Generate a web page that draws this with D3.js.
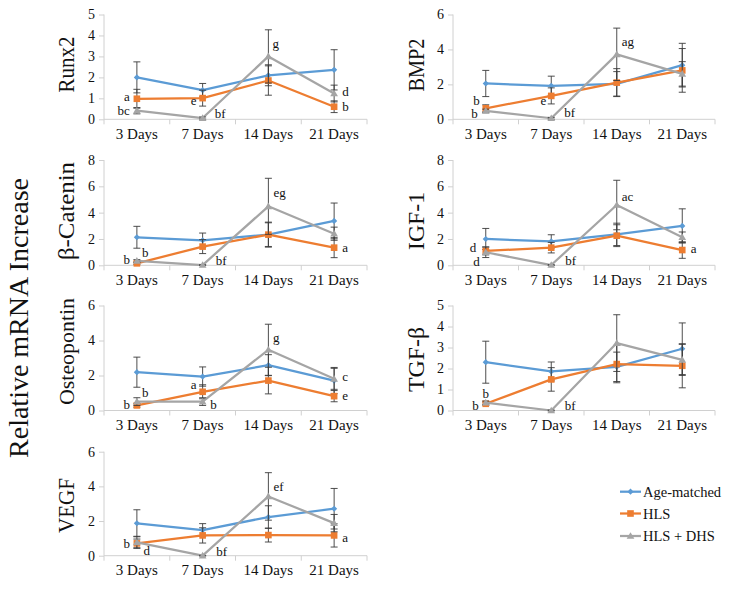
<!DOCTYPE html>
<html><head><meta charset="utf-8">
<script src="https://cdn.jsdelivr.net/npm/d3@7"></script>
<style>
body{margin:0;background:#fff}
svg{display:block}
svg text{font-family:"Liberation Serif","Times New Roman",Times,serif !important;fill:#111 !important}
</style>
</head><body>
<svg id="chart" width="730" height="591"></svg>
<script>
// ---------------- DATA ----------------
const days = ["3 Days", "7 Days", "14 Days", "21 Days"];
const seriesNames = ["Age-matched", "HLS", "HLS + DHS"];
const genes = ["Runx2", "BMP2", "β-Catenin", "IGF-1", "Osteopontin", "TGF-β", "VEGF"];
const yMax = [5, 6, 8, 8, 6, 5, 6];
const yStep = [1, 2, 2, 2, 2, 1, 2];

// values per gene (rows) x day (cols)
const ageMatched = [
  [2.00, 1.39, 2.10, 2.36],
  [2.05, 1.92, 2.03, 3.10],
  [2.13, 1.90, 2.33, 3.37],
  [2.00, 1.82, 2.35, 2.99],
  [2.19, 1.94, 2.59, 1.71],
  [2.30, 1.86, 2.08, 2.94],
  [1.87, 1.48, 2.23, 2.71]
];
const ageMatchedErr = [
  [0.74, 0.32, 0.50, 0.96],
  [0.75, 0.55, 0.70, 1.25],
  [0.83, 0.55, 0.95, 1.36],
  [0.80, 0.50, 0.85, 1.30],
  [0.86, 0.55, 0.60, 0.75],
  [1.00, 0.45, 0.70, 1.23],
  [0.78, 0.37, 0.65, 1.17]
];
const hls = [
  [0.98, 1.01, 1.85, 0.60],
  [0.63, 1.34, 2.10, 2.80],
  [0.15, 1.42, 2.33, 1.34],
  [1.09, 1.34, 2.25, 1.16],
  [0.29, 1.07, 1.71, 0.82],
  [0.32, 1.48, 2.21, 2.13],
  [0.71, 1.17, 1.19, 1.17]
];
const hlsErr = [
  [0.45, 0.38, 0.70, 0.28],
  [0.20, 0.46, 0.80, 1.25],
  [0.10, 0.53, 0.90, 0.76],
  [0.30, 0.40, 0.83, 0.63],
  [0.10, 0.40, 0.76, 0.32],
  [0.08, 0.56, 0.89, 1.05],
  [0.25, 0.44, 0.40, 0.67]
];
const hlsDhs = [
  [0.41, 0.06, 3.00, 1.23],
  [0.48, 0.06, 3.72, 2.60],
  [0.33, 0.02, 4.48, 2.40],
  [0.99, 0.02, 4.58, 2.13],
  [0.51, 0.51, 3.47, 1.81],
  [0.37, 0.00, 3.21, 2.41],
  [0.77, 0.00, 3.42, 1.88]
];
const hlsDhsErr = [
  [0.15, 0.05, 1.27, 0.40],
  [0.10, 0.05, 1.50, 0.70],
  [0.10, 0.03, 2.13, 0.50],
  [0.40, 0.03, 1.88, 0.40],
  [0.22, 0.22, 1.46, 0.60],
  [0.08, 0.02, 1.35, 0.74],
  [0.35, 0.02, 1.37, 0.50]
];

// significance letters: [gene, series, day, text]
const letters = [
  [0,1,0,"a"],[0,2,0,"bc"],[0,1,1,"e"],[0,2,1,"bf"],[0,2,2,"g"],[0,2,3,"d"],[0,1,3,"b"],
  [1,1,0,"b"],[1,2,0,"b"],[1,1,1,"e"],[1,2,1,"bf"],[1,2,2,"ag"],
  [2,1,0,"b"],[2,2,0,"b"],[2,2,1,"bf"],[2,2,2,"eg"],[2,1,3,"a"],
  [3,1,0,"d"],[3,2,0,"d"],[3,2,1,"bf"],[3,2,2,"ac"],[3,1,3,"a"],
  [4,2,0,"b"],[4,1,0,"b"],[4,1,1,"a"],[4,2,1,"b"],[4,2,2,"g"],[4,2,3,"c"],[4,1,3,"e"],
  [5,2,0,"b"],[5,1,0,"b"],[5,2,1,"bf"],
  [6,1,0,"b"],[6,1,0,"d"],[6,2,1,"bf"],[6,2,2,"ef"],[6,1,3,"a"]
];

// ---------------- LAYOUT ----------------
const letterOffsets = [
  [-7,2.2,"end"],[-7,4.75,"end"],[-6,6.9,"end"],[12,0,"start"],[4,-8.25,"start"],[8,2,"start"],[8,4.75,"start"],
  [-6,-3.5,"end"],[-8,7.5,"end"],[-5,9.2,"end"],[13,-1.3,"start"],[5,-8,"start"],
  [-7,0.5,"end"],[5,-4,"start"],[13,0,"start"],[5,-9,"start"],[8,4.5,"start"],
  [-9.5,1.5,"end"],[-6,13.5,"end"],[14,-0.5,"start"],[5,-4.5,"start"],[8.5,3.2,"start"],
  [5,-4.5,"start"],[-7,3.5,"end"],[-6,-3.1,"end"],[7.5,7.5,"start"],[4.5,-8.25,"start"],[8,2.5,"start"],[8,3.5,"start"],
  [0,-4.25,"middle"],[-7,6.5,"end"],[13.5,-0.25,"start"],
  [-7,4.75,"end"],[6.5,11.75,"start"],[13.5,0,"start"],[5,-5.3,"start"],[8,6.2,"start"]
];
const colX = [[104, 367], [453, 715]];
const rowY = [[14.5, 119.3], [160, 265.3], [305.5, 410.5], [451.7, 555.7]];
const panelCol = [0, 1, 0, 1, 0, 1, 0];
const panelRow = [0, 0, 1, 1, 2, 2, 3];
const titleX = [74, 424];
const titleY = [64.5, 65, 211, 221, 351.5, 359.5, 505.5];
const titleSize = [24, 23, 23, 24, 21, 23, 23];
const titleLen = [56, 53, 98, 58, 107, 65, 55];
const colors = ["#5B9BD5", "#ED7D31", "#A5A5A5"];
const axisColor = "#d0d0d0";
const serif = '"Liberation Serif","Times New Roman",Times,serif';

const values = [ageMatched, hls, hlsDhs];
const errs = [ageMatchedErr, hlsErr, hlsDhsErr];

const svg = d3.select("#chart");

function markerPath(s) {
  if (s === 0) return d3.symbol(d3.symbolSquare, 19)();
  if (s === 1) return d3.symbol(d3.symbolSquare, 44)();
  return d3.symbol(d3.symbolTriangle, 26)();
}
function markerTransform(s, x, y) {
  if (s === 0) return `translate(${x},${y}) rotate(45)`;
  if (s === 2) return `translate(${x},${y + 0.6})`;
  return `translate(${x},${y})`;
}

genes.forEach((gene, gi) => {
  const [x0, x1] = colX[panelCol[gi]];
  const [y0, y1] = rowY[panelRow[gi]];
  const g = svg.append("g");

  const x = d3.scaleBand().domain(days).range([x0, x1]);
  const y = d3.scaleLinear().domain([0, yMax[gi]]).range([y1, y0]);
  const cx = d => x(d) + x.bandwidth() / 2;

  // y axis
  const yAxis = d3.axisLeft(y).tickValues(d3.range(0, yMax[gi] + 0.001, yStep[gi]))
    .tickSize(5).tickPadding(4).tickFormat(d3.format("d"));
  const ya = g.append("g").attr("transform", `translate(${x0},0)`).call(yAxis)
    .attr("font-family", serif);
  ya.select(".domain").attr("stroke", axisColor).attr("d", `M0,${y1}V${y0}`);
  ya.selectAll(".tick line").attr("stroke", axisColor);
  ya.selectAll(".tick text").attr("font-size", 14).attr("fill", "#111");

  // x axis (labels at band centres, ticks at band boundaries)
  const xAxis = d3.axisBottom(x).tickSize(0).tickPadding(9);
  const xa = g.append("g").attr("transform", `translate(0,${y1})`).call(xAxis)
    .attr("font-family", serif);
  xa.select(".domain").attr("stroke", axisColor).attr("d", `M${x0},0H${x1}`);
  xa.selectAll(".tick text").attr("font-size", 15).attr("fill", "#111");
  const bounds = days.map(d => x(d)).concat([x1]);
  g.selectAll("line.xb").data(bounds).enter().append("line")
    .attr("x1", d => d).attr("x2", d => d).attr("y1", y1).attr("y2", y1 + 5)
    .attr("stroke", axisColor);

  // title
  g.append("text")
    .attr("transform", `translate(${titleX[panelCol[gi]]},${titleY[gi]}) rotate(-90)`)
    .attr("text-anchor", "middle")
    .attr("font-size", titleSize[gi])
    .attr("textLength", titleLen[gi])
    .attr("lengthAdjust", "spacingAndGlyphs")
    .text(gene);

  // series
  [0, 1, 2].forEach(s => {
    const vals = values[s][gi];
    const er = errs[s][gi];
    const pts = days.map((d, i) => ({ d, v: vals[i], e: er[i] }));
    const sg = g.append("g");
    sg.append("path").datum(pts)
      .attr("fill", "none").attr("stroke", colors[s]).attr("stroke-width", 2.25)
      .attr("stroke-linejoin", "round")
      .attr("d", d3.line().x(p => cx(p.d)).y(p => y(p.v)));
    // error bars
    const eb = sg.selectAll("g.eb").data(pts).enter().append("g");
    eb.append("line").attr("x1", p => cx(p.d)).attr("x2", p => cx(p.d))
      .attr("y1", p => y(p.v - p.e)).attr("y2", p => y(p.v + p.e))
      .attr("stroke", "#3a3a3a").attr("stroke-width", 0.9);
    eb.append("line").attr("x1", p => cx(p.d) - 3.5).attr("x2", p => cx(p.d) + 3.5)
      .attr("y1", p => y(p.v + p.e)).attr("y2", p => y(p.v + p.e))
      .attr("stroke", "#3a3a3a").attr("stroke-width", 0.9);
    eb.append("line").attr("x1", p => cx(p.d) - 3.5).attr("x2", p => cx(p.d) + 3.5)
      .attr("y1", p => y(p.v - p.e)).attr("y2", p => y(p.v - p.e))
      .attr("stroke", "#3a3a3a").attr("stroke-width", 0.9);
    sg.selectAll("path.m").data(pts).enter().append("path")
      .attr("d", markerPath(s))
      .attr("transform", p => markerTransform(s, cx(p.d), y(p.v)))
      .attr("fill", colors[s]);
  });

  // letters
  letters.forEach((L, li) => {
    if (L[0] !== gi) return;
    const [, s, di, t] = L;
    const [dx, dy, anchor] = letterOffsets[li];
    g.append("text")
      .attr("x", cx(days[di]) + dx)
      .attr("y", y(values[s][gi][di]) + dy)
      .attr("text-anchor", anchor)
      .attr("font-size", 13)
      .text(t);
  });
});

// overall y title
svg.append("text")
  .attr("transform", "translate(28,318) rotate(-90)")
  .attr("text-anchor", "middle")
  .attr("font-size", 28)
  .text("Relative mRNA Increase");

// legend
const legY = [491.7, 513.5, 536];
const lg = svg.append("g");
seriesNames.forEach((name, s) => {
  lg.append("line").attr("x1", 620).attr("x2", 641).attr("y1", legY[s]).attr("y2", legY[s])
    .attr("stroke", colors[s]).attr("stroke-width", 2.25);
  lg.append("path").attr("d", markerPath(s))
    .attr("transform", markerTransform(s, 630.5, legY[s])).attr("fill", colors[s]);
  lg.append("text").attr("x", 643).attr("y", legY[s] + 5).attr("font-size", 14.5).text(name);
});
</script>
</body></html>
